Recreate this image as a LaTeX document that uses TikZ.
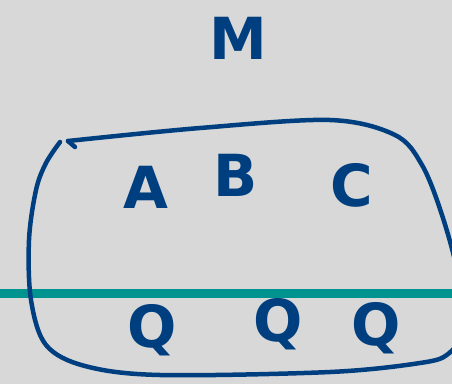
\documentclass[tikz,border=0pt]{standalone}
\usepackage{fontspec}
\setmainfont{DejaVu Sans}
\definecolor{bg}{HTML}{D8D8D8}
\definecolor{ink}{HTML}{003F7F}
\definecolor{tealline}{HTML}{009490}
\begin{document}
\begin{tikzpicture}[x=1pt,y=-1pt,
  lbl/.style={text=ink,font=\fontsize{58}{62}\selectfont\bfseries,inner sep=0pt},
  ink line/.style={draw=ink,line width=4.5pt,line cap=round,line join=round}]
\useasboundingbox (0,0) rectangle (452,384);
\fill[bg] (0,0) rectangle (452,384);
% teal line
\draw[tealline,line width=9pt] (0,293) -- (452,293);
% blob
\draw[ink line] plot[smooth,tension=0.55] coordinates {
  (68,141) (200,128) (330,120) (395,135) (422,165) (442,215) (458,275) (462,330) (448,354) (420,363) (330,372) (160,375) (85,366) (46,345) (31,300) (29,240) (36,190) (46,163) (60,142)};
\draw[ink line] (68,141) -- (75,147);
% labels
\node[lbl] (m) at (238,38) {M};
\node[lbl] (a) at (146,187) {A};
\node[lbl] (b) at (236,175) {B};
\node[lbl] (c) at (352,185) {C};
\node[lbl] (q1) at (152,330) {Q};
\node[lbl] (q2) at (278,324) {Q};
\node[lbl] (q3) at (376,328) {Q};
\end{tikzpicture}
\end{document}
